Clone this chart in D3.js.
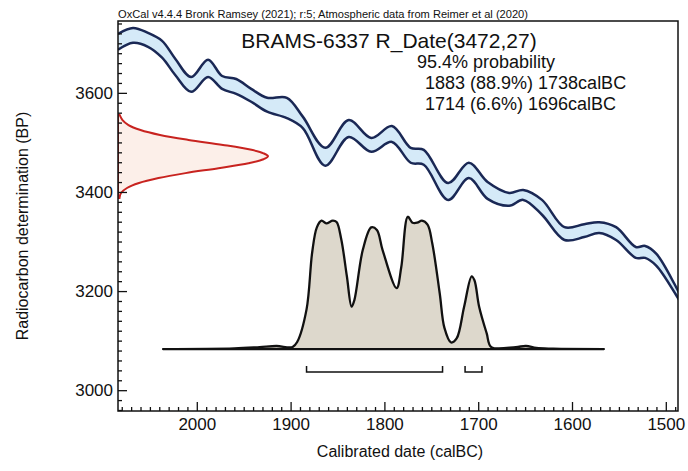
<!DOCTYPE html>
<html>
<head>
<meta charset="utf-8">
<script src="https://cdn.jsdelivr.net/npm/d3@7"></script>
<style>
  body { margin: 0; background: #fff; }
  text { font-family: "Liberation Sans", Arial, sans-serif; fill: #111; }
</style>
</head>
<body>
<div id="chart"></div>
<script>
// Calibration curve (IntCal20), upper and lower edges of the band
var calYears = [2084, 2068, 2052, 2037, 2023, 2006, 1988, 1973, 1958, 1942, 1925, 1904, 1887, 1863, 1838, 1814, 1792, 1772, 1758, 1732, 1710, 1690, 1667, 1652, 1632, 1608, 1587, 1571, 1553, 1532, 1522, 1510, 1489, 1484];
var curveUpper = [3719, 3731, 3721, 3705, 3669, 3632, 3667, 3634, 3628, 3608, 3590, 3590, 3552, 3489, 3545, 3509, 3533, 3489, 3485, 3418, 3459, 3420, 3398, 3404, 3384, 3329, 3335, 3339, 3329, 3289, 3291, 3275, 3208, 3190];
var curveLower = [3687, 3701, 3693, 3671, 3636, 3602, 3632, 3608, 3598, 3582, 3562, 3549, 3529, 3453, 3511, 3481, 3501, 3459, 3455, 3384, 3428, 3386, 3372, 3384, 3354, 3303, 3309, 3317, 3303, 3267, 3267, 3251, 3192, 3176];

// Radiocarbon date R_Date(3472,27), relative density
var rBP = [3556, 3545, 3535, 3525, 3515, 3505, 3495, 3485, 3478, 3472, 3466, 3458, 3448, 3438, 3428, 3418, 3408, 3398, 3388];
var rDensity = [0.01, 0.03, 0.07, 0.15, 0.28, 0.47, 0.70, 0.89, 0.97, 1.0, 0.97, 0.87, 0.67, 0.45, 0.27, 0.14, 0.06, 0.02, 0.01];

// Calibrated distribution, relative density
var distYears = [2036, 1960, 1933, 1915, 1898, 1893, 1883, 1877, 1872, 1867, 1862, 1855, 1851, 1846, 1840, 1835, 1832, 1823, 1814, 1808, 1802, 1787, 1782, 1775, 1770, 1765, 1760, 1754, 1749, 1741, 1736, 1729, 1723, 1715, 1707, 1704, 1699, 1691, 1686, 1660, 1649, 1638, 1620, 1566];
var distDensity = [0, 0.005, 0.015, 0.023, 0.015, 0.053, 0.30, 0.73, 0.92, 0.97, 0.95, 0.97, 0.96, 0.83, 0.55, 0.32, 0.37, 0.75, 0.92, 0.90, 0.75, 0.46, 0.62, 1.0, 0.955, 0.955, 0.97, 0.94, 0.80, 0.42, 0.16, 0.05, 0.08, 0.32, 0.55, 0.52, 0.32, 0.12, 0.015, 0.015, 0.023, 0.008, 0.003, 0];

// 95.4% ranges
var rangeStart = [1883, 1714];
var rangeEnd = [1738, 1696];

// Tick values
var xTicks = [2000, 1900, 1800, 1700, 1600, 1500];
var yTicks = [3000, 3200, 3400, 3600];

var header = "OxCal v4.4.4 Bronk Ramsey (2021); r:5; Atmospheric data from Reimer et al (2020)";
var title = "BRAMS-6337 R_Date(3472,27)";
var probLines = ["95.4% probability", "1883 (88.9%) 1738calBC", "1714 (6.6%) 1696calBC"];

var width = 688;
var height = 471;
var frame = {left: 118, right: 678, top: 21, bottom: 411};

var svg = d3.select("#chart")
    .append("svg")
    .attr("width", width)
    .attr("height", height);

var xScale = d3.scaleLinear()
    .domain([2084, 1487])
    .range([frame.left, frame.right]);

var yScale = d3.scaleLinear()
    .domain([2958, 3745])
    .range([frame.bottom, frame.top]);

svg.append("clipPath").attr("id", "plotClip")
  .append("rect")
    .attr("x", frame.left)
    .attr("y", frame.top)
    .attr("width", frame.right - frame.left)
    .attr("height", frame.bottom - frame.top);

var plot = svg.append("g").attr("clip-path", "url(#plotClip)");

// Calibration band
var curveData = calYears.map(function(d, i) {
    return {year: d, hi: curveUpper[i], lo: curveLower[i]};
});
var smooth = d3.curveCatmullRom.alpha(0.5);

plot.append("path")
    .datum(curveData)
    .attr("fill", "#d5eaf8")
    .attr("d", d3.area()
        .x(function(d) { return xScale(d.year); })
        .y0(function(d) { return yScale(d.lo); })
        .y1(function(d) { return yScale(d.hi); })
        .curve(smooth));

["hi", "lo"].forEach(function(key) {
    plot.append("path")
        .datum(curveData)
        .attr("fill", "none")
        .attr("stroke", "#1a2855")
        .attr("stroke-width", 2.5)
        .attr("d", d3.line()
            .x(function(d) { return xScale(d.year); })
            .y(function(d) { return yScale(d[key]); })
            .curve(smooth));
});

// Radiocarbon date on the y axis
var rWidth = d3.scaleLinear().domain([0, 1]).range([frame.left, frame.left + 150]);
var rData = rBP.map(function(d, i) { return {bp: d, p: rDensity[i]}; });

plot.append("path")
    .datum(rData)
    .attr("fill", "#fcefe9")
    .attr("stroke", "#c8231f")
    .attr("stroke-width", 2)
    .attr("d", d3.area()
        .y(function(d) { return yScale(d.bp); })
        .x0(frame.left)
        .x1(function(d) { return rWidth(d.p); })
        .curve(smooth));

// Calibrated distribution
var distHeight = d3.scaleLinear().domain([0, 1]).range([yScale(3083), yScale(3350)]);
var distData = distYears.map(function(d, i) { return {year: d, p: distDensity[i]}; });

plot.append("path")
    .datum(distData)
    .attr("fill", "#ddd8cc")
    .attr("stroke", "#111")
    .attr("stroke-width", 2.3)
    .attr("stroke-linejoin", "round")
    .attr("d", d3.area()
        .x(function(d) { return xScale(d.year); })
        .y0(distHeight(0))
        .y1(function(d) { return distHeight(d.p); })
        .curve(smooth));

// Range brackets
var bracketY = 372;
rangeStart.forEach(function(s, i) {
    var x0 = xScale(s), x1 = xScale(rangeEnd[i]);
    svg.append("path")
        .attr("fill", "none")
        .attr("stroke", "#111")
        .attr("stroke-width", 1.5)
        .attr("d", "M" + x0 + "," + (bracketY - 6) + "V" + bracketY + "H" + x1 + "V" + (bracketY - 6));
});

// Axes, ticks pointing inwards
var xMinor = d3.range(1490, 2090, 10).filter(function(d) { return d % 100 !== 0; });
var yMinor = d3.range(2960, 3745, 20).filter(function(d) { return d % 200 !== 0; });

svg.append("g")
    .attr("transform", "translate(0," + frame.bottom + ")")
    .call(d3.axisBottom(xScale).tickValues(xTicks).tickSizeInner(-9).tickSizeOuter(0).tickPadding(7).tickFormat(d3.format("d")));
svg.append("g")
    .attr("transform", "translate(0," + frame.bottom + ")")
    .call(d3.axisBottom(xScale).tickValues(xMinor).tickSizeInner(-4).tickSizeOuter(0).tickFormat(""));

svg.append("g")
    .attr("transform", "translate(" + frame.left + ",0)")
    .call(d3.axisLeft(yScale).tickValues(yTicks).tickSizeInner(-9).tickSizeOuter(0).tickPadding(5).tickFormat(d3.format("d")));
svg.append("g")
    .attr("transform", "translate(" + frame.left + ",0)")
    .call(d3.axisLeft(yScale).tickValues(yMinor).tickSizeInner(-4).tickSizeOuter(0).tickFormat(""));

svg.selectAll(".domain").remove();
svg.selectAll(".tick line").attr("stroke", "#111").attr("stroke-width", 1.3);
svg.selectAll(".tick text").attr("font-size", 17).attr("fill", "#111");

// Frame
svg.append("rect")
    .attr("x", frame.left)
    .attr("y", frame.top)
    .attr("width", frame.right - frame.left)
    .attr("height", frame.bottom - frame.top)
    .attr("fill", "none")
    .attr("stroke", "#111")
    .attr("stroke-width", 1.5);

// Texts
svg.append("text")
    .attr("x", frame.left)
    .attr("y", 18)
    .attr("font-size", 10)
    .attr("textLength", 410)
    .attr("lengthAdjust", "spacingAndGlyphs")
    .text(header);

svg.append("text")
    .attr("x", 389)
    .attr("y", 48)
    .attr("text-anchor", "middle")
    .attr("font-size", 21)
    .text(title);

svg.append("text")
    .attr("x", 417)
    .attr("y", 68)
    .attr("font-size", 18)
    .text(probLines[0]);

svg.selectAll(".range-line")
    .data(probLines.slice(1))
    .enter()
    .append("text")
    .attr("class", "range-line")
    .attr("x", 425)
    .attr("y", function(d, i) { return 89 + i * 21; })
    .attr("font-size", 18)
    .text(function(d) { return d; });

svg.append("text")
    .attr("x", 400)
    .attr("y", 457)
    .attr("text-anchor", "middle")
    .attr("font-size", 16)
    .text("Calibrated date (calBC)");

svg.append("text")
    .attr("transform", "translate(28,226)rotate(-90)")
    .attr("text-anchor", "middle")
    .attr("font-size", 16)
    .text("Radiocarbon determination (BP)");
</script>
</body>
</html>
